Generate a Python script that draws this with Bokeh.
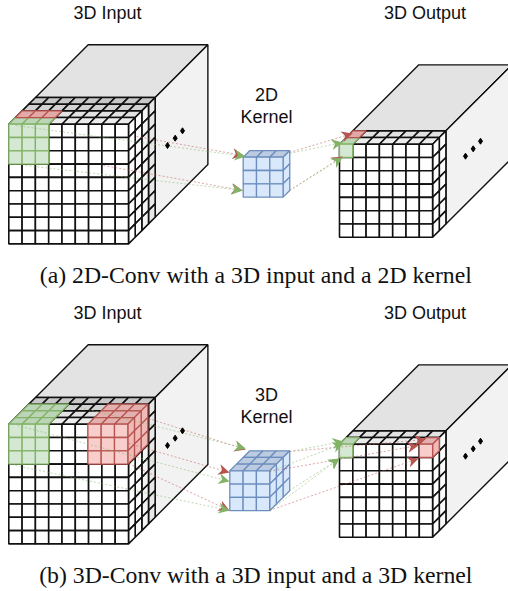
from bokeh.plotting import figure
from bokeh.models import Range1d
from bokeh.core.properties import value
from bokeh.embed import file_html
from bokeh.resources import INLINE

# ---- picture-space description of the diagram ----
CELL = 13.3
DEPTH = 6.67
BLACK = "#111111"
GREEN_F, GREEN_S = "#d5e8d4", "#82b366"
RED_F, RED_S = "#f8cecc", "#b85450"
BLUE_F, BLUE_S = "#dae8fc", "#6c8ebf"

labels_text = ["3D Input", "3D Output", "3D Input", "3D Output"]
labels_x = [107, 424.5, 107, 424.5]
labels_y = [12, 12, 312, 312]
kernel_text = ["2D", "Kernel", "3D", "Kernel"]
kernel_x = [266, 266, 266, 266]
kernel_y = [94, 116, 394, 416]
caption_text = ["(a) 2D-Conv with a 3D input and a 2D kernel",
                "(b) 3D-Conv with a 3D input and a 3D kernel"]
caption_y = [274.5, 574.5]

# cube: x, y of front top-left, cols, rows, depth layers, box depth (px)
input_a = (8.3, 123.7, 9, 9, 4, 52.7)
output_a = (339.0, 143.7, 7, 7, 2, 66.0)
input_b = (8.3, 423.7, 9, 9, 4, 52.7)
output_b = (339.0, 443.7, 7, 7, 2, 66.0)

# arrows: (x0, y0, x1, y1)
green_arrows = [
    (15, 125, 245, 156), (25, 165, 242, 190),
    (289, 153, 342, 142), (289, 190, 342, 157),
    (72, 405, 245, 448), (17, 425, 229, 481), (15, 465, 229, 510),
    (289, 451, 343, 441), (269, 471, 343, 443), (289, 490, 339, 458), (269, 510, 339, 458),
]
red_arrows = [
    (136, 136, 243, 155), (103, 165, 242, 190),
    (289, 152, 352, 133), (289, 190, 342, 156),
    (148, 418, 245, 449), (128, 443, 229, 472), (128, 463, 229, 510),
    (289, 451, 425, 439), (269, 471, 418, 445), (269, 510, 418, 458),
]
dots_a = ([167, 174.7, 182], [145, 137.7, 130.3])
dots_out = ([465, 472.7, 480], [155.7, 148.3, 140.7])

p = figure(width=508, height=591, output_backend="svg", toolbar_location=None,
           x_range=Range1d(0, 508), y_range=Range1d(591, 0),
           min_border=0, outline_line_color=None)
p.axis.visible = False
p.grid.visible = False
p.background_fill_color = "white"


def box(pts, fill, line, lw=1.6, alpha=1.0):
    xs, ys = zip(*pts)
    p.patch(list(xs), list(ys), fill_color=fill, fill_alpha=alpha, line_color=line, line_width=lw)


def draw_cube(c):
    x0, y0, cols, rows, layers, bd = c
    w, h, d = cols * CELL, rows * CELL, layers * DEPTH
    bx, by = x0 + d, y0 - d
    box([(bx, by), (bx + bd, by - bd), (bx + w + bd, by - bd), (bx + w, by)], "#e3e3e3", BLACK, 1.4)
    box([(bx + w, by), (bx + w + bd, by - bd), (bx + w + bd, by - bd + h), (bx + w, by + h)], "#f2f2f2", BLACK, 1.4)
    shades = ["#c8c8c8", "#d2d2d2", "#e2e2e2", "#ececec"][-layers:]
    side_sh = ["#e8e8e8", "#f4f4f4", "#fbfbfb", "#ffffff"][-layers:]
    for k in range(layers):
        dd1 = (layers - k) * DEPTH
        dd0 = (layers - k - 1) * DEPTH
        for i in range(cols):
            xa = x0 + i * CELL
            box([(xa + dd0, y0 - dd0), (xa + dd1, y0 - dd1), (xa + CELL + dd1, y0 - dd1), (xa + CELL + dd0, y0 - dd0)],
                shades[k], BLACK)
        for j in range(rows):
            ya = y0 + j * CELL
            xr = x0 + w
            box([(xr + dd0, ya - dd0), (xr + dd1, ya - dd1), (xr + dd1, ya + CELL - dd1), (xr + dd0, ya + CELL - dd0)],
                side_sh[k], BLACK)
    for i in range(cols):
        for j in range(rows):
            xa, ya = x0 + i * CELL, y0 + j * CELL
            box([(xa, ya), (xa + CELL, ya), (xa + CELL, ya + CELL), (xa, ya + CELL)], "white", BLACK)


def draw_block(x0, y0, n, layers, fill, line, side=True, top_fill=None, side_fill=None):
    top_fill = top_fill or fill
    side_fill = side_fill or fill
    for k in range(layers - 1, -1, -1):
        dd0, dd1 = k * DEPTH, (k + 1) * DEPTH
        for i in range(n):
            xa = x0 + i * CELL
            box([(xa + dd0, y0 - dd0), (xa + dd1, y0 - dd1), (xa + CELL + dd1, y0 - dd1), (xa + CELL + dd0, y0 - dd0)],
                top_fill, line, 1.3)
        if side:
            for j in range(n):
                xr, ya = x0 + n * CELL, y0 + j * CELL
                box([(xr + dd0, ya - dd0), (xr + dd1, ya - dd1), (xr + dd1, ya + CELL - dd1), (xr + dd0, ya + CELL - dd0)],
                    side_fill, line, 1.3)
    for i in range(n):
        for j in range(n):
            xa, ya = x0 + i * CELL, y0 + j * CELL
            box([(xa, ya), (xa + CELL, ya), (xa + CELL, ya + CELL), (xa, ya + CELL)], fill, line, 1.3)


def arrow(a, color):
    x0, y0, x1, y1 = a
    p.line([x0, x1], [y0, y1], line_color=color, line_dash="2 2", line_width=1, line_alpha=0.5)
    L = ((x1 - x0) ** 2 + (y1 - y0) ** 2) ** 0.5
    ux, uy = (x1 - x0) / L, (y1 - y0) / L
    nx, ny = -uy, ux
    s, hw = 11, 5.5
    box([(x1, y1), (x1 - s * ux + hw * nx, y1 - s * uy + hw * ny), (x1 - 0.7 * s * ux, y1 - 0.7 * s * uy),
         (x1 - s * ux - hw * nx, y1 - s * uy - hw * ny)], color, None)


for c in (input_a, output_a, input_b, output_b):
    draw_cube(c)

# part (a) highlights
draw_block(input_a[0], input_a[1], 3, 1, GREEN_F, GREEN_S, side=False, top_fill="#bcd4b8")
xr0, yr0 = input_a[0] + DEPTH, input_a[1] - DEPTH
for i in range(3):
    xa = xr0 + i * CELL
    box([(xa, yr0), (xa + DEPTH, yr0 - DEPTH), (xa + CELL + DEPTH, yr0 - DEPTH), (xa + CELL, yr0)], "#e2a9a7", RED_S, 1.3)
draw_block(242.7, 156.7, 3, 1, BLUE_F, BLUE_S, top_fill="#bccbdf")
draw_block(output_a[0], output_a[1], 1, 1, GREEN_F, GREEN_S, side=False, top_fill="#bcd4b8")
xr0, yr0 = output_a[0] + DEPTH, output_a[1] - DEPTH
box([(xr0, yr0), (xr0 + DEPTH, yr0 - DEPTH), (xr0 + CELL + DEPTH, yr0 - DEPTH), (xr0 + CELL, yr0)], "#e2a9a7", RED_S, 1.3)

# part (b) highlights
draw_block(input_b[0], input_b[1], 3, 3, GREEN_F, GREEN_S, side=False, top_fill="#bcd4b8")
draw_block(input_b[0] + 6 * CELL - 0.7, input_b[1], 3, 3, RED_F, RED_S, top_fill="#e2b0ae", side_fill="#eebbb9")
draw_block(229.3, 470.3, 3, 3, BLUE_F, BLUE_S, top_fill="#bccbdf")
draw_block(output_b[0], output_b[1], 1, 1, GREEN_F, GREEN_S, side=False, top_fill="#bcd4b8")
draw_block(output_b[0] + 6 * CELL, output_b[1], 1, 1, RED_F, RED_S, top_fill="#e2b0ae", side_fill="#eebbb9")

for a in red_arrows:
    arrow(a, RED_S)
for a in green_arrows:
    arrow(a, GREEN_S)

for dx, dy in [(dots_a[0], dots_a[1]), (dots_a[0], [v + 300 for v in dots_a[1]]),
               (dots_out[0], dots_out[1]), (dots_out[0], [v + 300 for v in dots_out[1]])]:
    p.scatter(dx, dy, marker="diamond", size=6, color="black")

p.text(labels_x, labels_y, text=labels_text, text_font=value("Liberation Sans"), text_font_size="18px",
       text_align="center", text_baseline="middle", text_color="#111111")
p.text(kernel_x, kernel_y, text=kernel_text, text_font=value("Liberation Sans"), text_font_size="18px",
       text_align="center", text_baseline="middle", text_color="#111111")
p.text([255.3, 255.3], caption_y, text=caption_text, text_font=value("Liberation Serif"), text_font_size="23.76px",
       text_align="center", text_baseline="middle", text_color="#111111")

open("out.html", "w").write(file_html(p, INLINE))
